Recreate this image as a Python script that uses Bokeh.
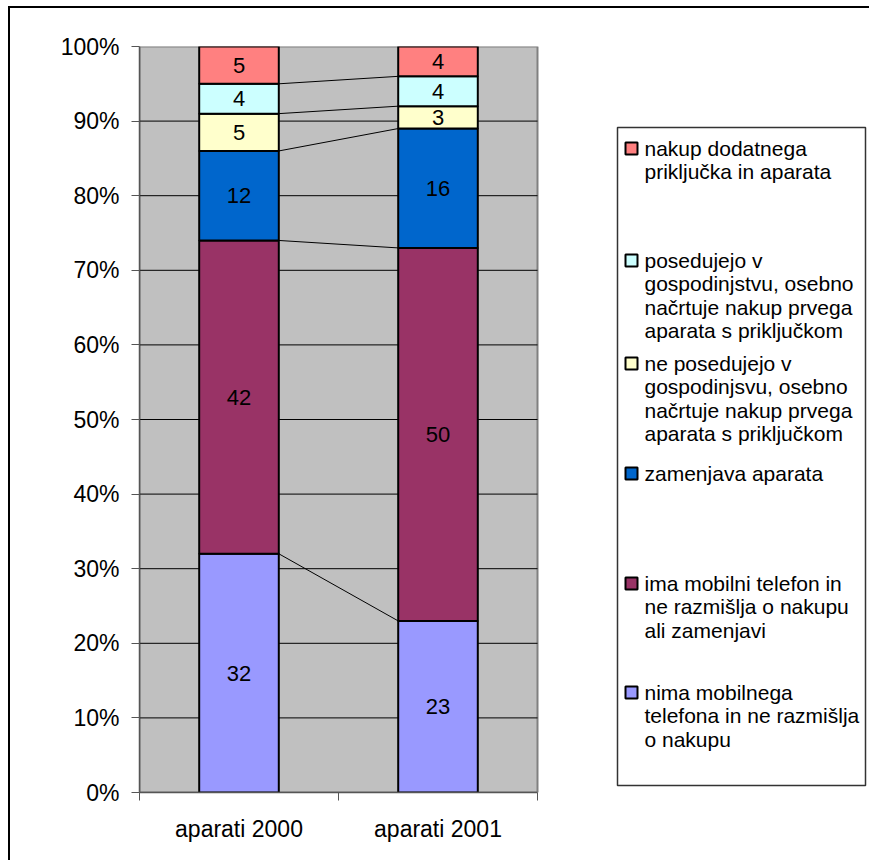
from bokeh.plotting import figure
from bokeh.models import ColumnDataSource, Range1d, FixedTicker
from bokeh.core.properties import value
from bokeh.embed import file_html
from bokeh.resources import INLINE

# ---------------- data ----------------
categories = ["aparati 2000", "aparati 2001"]
series_keys = ["nima", "ima", "zamenjava", "ne_posedujejo", "posedujejo", "nakup"]
nima = [32, 23]
ima = [42, 50]
zamenjava = [12, 16]
ne_posedujejo = [5, 3]
posedujejo = [4, 4]
nakup = [5, 4]
series_colors = ["#9999FF", "#993366", "#0066CC", "#FFFFCC", "#CCFFFF", "#FF8080"]
y_ticks = [0, 10, 20, 30, 40, 50, 60, 70, 80, 90, 100]
y_tick_labels = ["0%", "10%", "20%", "30%", "40%", "50%", "60%", "70%", "80%", "90%", "100%"]
# legend (top to bottom), wrapped as in the original
legend_keys = ["nakup", "posedujejo", "ne_posedujejo", "zamenjava", "ima", "nima"]
legend_lines = [
    ["nakup dodatnega", "priključka in aparata"],
    ["posedujejo v", "gospodinjstvu, osebno", "načrtuje nakup prvega", "aparata s priključkom"],
    ["ne posedujejo v", "gospodinjsvu, osebno", "načrtuje nakup prvega", "aparata s priključkom"],
    ["zamenjava aparata"],
    ["ima mobilni telefon in", "ne razmišlja o nakupu", "ali zamenjavi"],
    ["nima mobilnega", "telefona in ne razmišlja", "o nakupu"],
]

values = dict(nima=nima, ima=ima, zamenjava=zamenjava, ne_posedujejo=ne_posedujejo,
              posedujejo=posedujejo, nakup=nakup)
color_of = dict(zip(series_keys, series_colors))

FONT = "Liberation Sans"

# ---------------- layout (page pixels) ----------------
W, H = 861, 854
ORIGIN_X, ORIGIN_Y = 10, 8           # canvas origin on page (margin + border)
FRAME_L, FRAME_T, FRAME_B = 139, 46, 792
FRAME_R = ORIGIN_X + W
CAT_PX = 199                          # pixels per category
X_MAX = (FRAME_R - FRAME_L) / CAT_PX
FRAME_H = FRAME_B - FRAME_T


def dx(px):
    return (px - FRAME_L) / CAT_PX


def dy(py):
    return (FRAME_B - py) * 100.0 / FRAME_H


p = figure(width=W, height=H, x_range=Range1d(0, X_MAX), y_range=Range1d(0, 100),
           output_backend="svg", toolbar_location=None,
           min_border_left=FRAME_L - ORIGIN_X, min_border_top=FRAME_T - ORIGIN_Y,
           min_border_bottom=ORIGIN_Y + H - FRAME_B, min_border_right=0,
           styles={"border-top": "2px solid #000000", "border-left": "2px solid #000000",
                   "margin-left": "8px", "margin-top": "6px"})
p.outline_line_color = None
p.background_fill_color = "white"
p.border_fill_color = "white"
p.xgrid.visible = False
p.ygrid.visible = False

n_cat = len(categories)
xs = [i + 0.5 for i in range(n_cat)]
BAR_W = 0.4

# plot area
p.quad(left=[0], right=[n_cat], bottom=[y_ticks[0]], top=[y_ticks[-1]],
       fill_color="#C0C0C0", line_color="#808080", line_width=2)
# gridlines from the tick values
inner = y_ticks[1:-1]
p.segment(x0=[0] * len(inner), x1=[n_cat] * len(inner), y0=inner, y1=inner,
          line_color="#000000", line_width=1)

# stacked bars
src = ColumnDataSource(dict(x=xs, **values))
p.vbar_stack(series_keys, x="x", width=BAR_W, source=src,
             fill_color=series_colors, line_color="#000000", line_width=2)

# series lines + labels
cum = [0.0] * n_cat
lab_x, lab_y, lab_t = [], [], []
for k in series_keys:
    vals = values[k]
    for i in range(n_cat):
        lab_x.append(xs[i])
        lab_y.append(cum[i] + vals[i] / 2.0)
        lab_t.append(str(vals[i]))
    cum = [cum[i] + vals[i] for i in range(n_cat)]
    if k != series_keys[-1]:
        p.segment(x0=[xs[0] + BAR_W / 2], x1=[xs[1] - BAR_W / 2], y0=[cum[0]], y1=[cum[1]],
                  line_color="#000000", line_width=1)

p.text(x=lab_x, y=lab_y, text=lab_t, text_font=value(FONT), text_font_size="22px",
       text_color="#000000", text_align="center", text_baseline="middle")

# axes
p.yaxis.ticker = FixedTicker(ticks=y_ticks)
p.yaxis.major_label_overrides = {t: l for t, l in zip(y_ticks, y_tick_labels)}
p.yaxis.bounds = (0, 100)
p.yaxis.major_tick_out = 8
p.yaxis.major_tick_in = 0
p.yaxis.minor_tick_out = 0
p.yaxis.minor_tick_in = 0
p.yaxis.major_label_standoff = 12
p.yaxis.axis_line_color = "#555555"
p.yaxis.axis_line_width = 1.5
p.yaxis.major_tick_line_color = "#555555"
p.yaxis.major_label_text_font = FONT
p.yaxis.major_label_text_font_size = "23px"
p.yaxis.major_label_text_color = "#000000"

p.xaxis.ticker = FixedTicker(ticks=xs, minor_ticks=list(range(n_cat + 1)))
p.xaxis.major_label_overrides = {x: c for x, c in zip(xs, categories)}
p.xaxis.bounds = (0, n_cat)
p.xaxis.major_tick_out = 0
p.xaxis.major_tick_in = 0
p.xaxis.minor_tick_out = 8
p.xaxis.minor_tick_in = 0
p.xaxis.minor_tick_line_color = "#555555"
p.xaxis.major_label_standoff = 15
p.xaxis.axis_line_color = "#555555"
p.xaxis.axis_line_width = 1.5
p.xaxis.major_label_text_font = FONT
p.xaxis.major_label_text_font_size = "23px"
p.xaxis.major_label_text_color = "#000000"

# legend (drawn inside the wide frame)
LEG_L, LEG_R, LEG_T, LEG_B = 617, 865, 127, 785
p.quad(left=[dx(LEG_L)], right=[dx(LEG_R)], top=[dy(LEG_T)], bottom=[dy(LEG_B)],
       fill_color="white", line_color="#333333", line_width=1.5)
entry_first_y = [148, 260, 363, 473, 583, 692]
LINE_H = 23.3
SQ_X = 631
TXT_X = 644
lx, ly, lt = [], [], []
sq_x, sq_y, sq_c = [], [], []
for key, lines, y0 in zip(legend_keys, legend_lines, entry_first_y):
    sq_x.append(dx(SQ_X))
    sq_y.append(dy(y0))
    sq_c.append(color_of[key])
    for j, line in enumerate(lines):
        lx.append(dx(TXT_X))
        ly.append(dy(y0 + j * LINE_H))
        lt.append(line)
p.rect(x=sq_x, y=sq_y, width=12, height=12, width_units="screen", height_units="screen",
       fill_color=sq_c, line_color="#000000", line_width=2)
p.text(x=lx, y=ly, text=lt, text_font=value(FONT), text_font_size="21px",
       text_color="#000000", text_align="left", text_baseline="middle")

open("out.html", "w").write(file_html(p, INLINE))
